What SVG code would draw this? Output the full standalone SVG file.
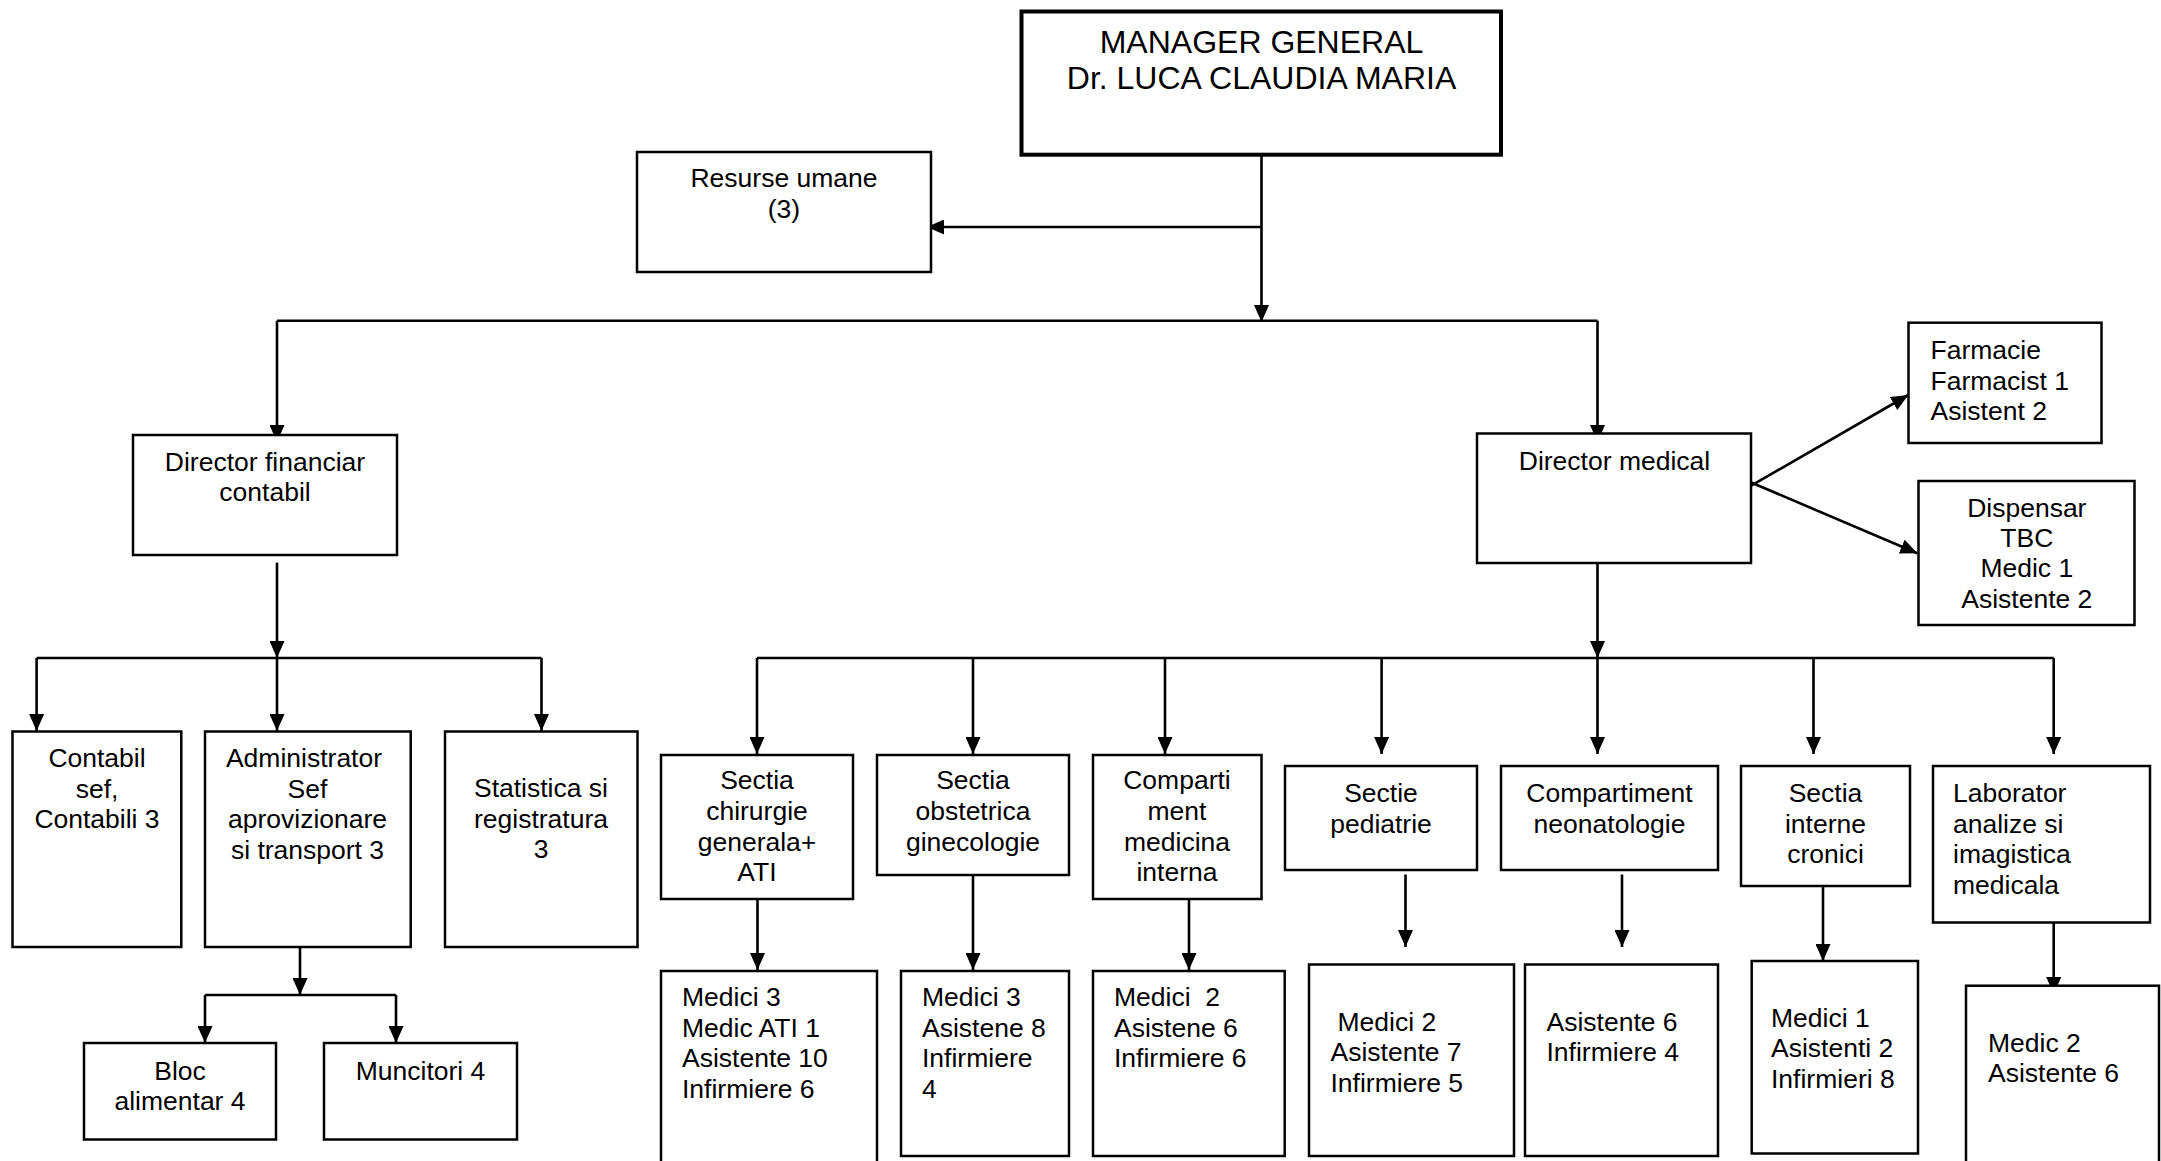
<svg xmlns="http://www.w3.org/2000/svg" width="2161" height="1161" viewBox="0 0 2161 1161">
<style>
.b{fill:#fff;stroke:#000;stroke-width:2.5}
.m{fill:#fff;stroke:#000;stroke-width:4}
.c{fill:none;stroke:#000;stroke-width:2.6}
text{font-family:"Liberation Sans",Arial,sans-serif;font-size:26.5px;fill:#000}
.t{text-anchor:middle}
.big{font-size:32px}
</style>
<defs>
<marker id="ah" markerUnits="userSpaceOnUse" markerWidth="17" markerHeight="15" refX="17" refY="7.5" orient="auto">
<path d="M0,0 L17,7.5 L0,15 z" fill="#000"/>
</marker>
</defs>
<rect width="2161" height="1161" fill="#fff"/>
<g id="connectors" class="c" marker-end="url(#ah)">
<path d="M1261.5,154 V322"/>
<path d="M1261.5,227 H927"/>
<path d="M277,320.7 H1597.5" marker-end="none"/>
<path d="M277,320.7 V442"/>
<path d="M1597.5,320.7 V442"/>
<path d="M277,562.7 V658"/>
<path d="M36.6,658 H541.5" marker-end="none"/>
<path d="M36.6,658 V731"/>
<path d="M277,658 V731"/>
<path d="M541.5,658 V731"/>
<path d="M300,947 V995"/>
<path d="M205,995 H396" marker-end="none"/>
<path d="M205,995 V1043"/>
<path d="M396,995 V1043"/>
<path d="M1740.7,491.7 L1908.3,395"/>
<path d="M1751.7,482.7 L1917.3,553.3"/>
<path d="M1597.5,563 V658"/>
<path d="M757,658 H2053.7" marker-end="none"/>
<path d="M757,658 V754"/>
<path d="M973,658 V754"/>
<path d="M1165,658 V754"/>
<path d="M1381.6,658 V754"/>
<path d="M1597.5,658 V754"/>
<path d="M1813.5,658 V754"/>
<path d="M2053.7,658 V754"/>
<path d="M757.5,899 V970"/>
<path d="M973,875 V970"/>
<path d="M1189,899 V970"/>
<path d="M1405.5,874.5 V947"/>
<path d="M1622,874.5 V947"/>
<path d="M1823,886 V961"/>
<path d="M2053.7,922.5 V994"/>
</g>
<g id="manager"><rect class="m" x="1021.5" y="11.5" width="479.5" height="143.2"/>
<text class="t big" x="1261.5" y="52.5">MANAGER GENERAL</text>
<text class="t big" x="1261.5" y="89">Dr. LUCA CLAUDIA MARIA</text></g>
<g id="resurse"><rect class="b" x="637" y="152" width="294" height="120"/>
<text class="t" x="784" y="187">Resurse umane</text>
<text class="t" x="784" y="217.5">(3)</text></g>
<g id="dir-fin"><rect class="b" x="133" y="435" width="264" height="120"/>
<text class="t" x="265" y="470.7">Director financiar</text>
<text class="t" x="265" y="501">contabil</text></g>
<g id="dir-med"><rect class="b" x="1477" y="433.5" width="274" height="129.5"/>
<text class="t" x="1614.5" y="470">Director medical</text></g>
<g id="farmacie"><rect class="b" x="1908.5" y="322.7" width="193" height="120.3"/>
<text x="1930.5" y="359.3">Farmacie</text>
<text x="1930.5" y="389.5">Farmacist 1</text>
<text x="1930.5" y="419.7">Asistent 2</text></g>
<g id="dispensar"><rect class="b" x="1918.5" y="481" width="216" height="144"/>
<text class="t" x="2026.8" y="517">Dispensar</text>
<text class="t" x="2026.8" y="547">TBC</text>
<text class="t" x="2026.8" y="577.3">Medic 1</text>
<text class="t" x="2026.8" y="607.5">Asistente 2</text></g>
<g id="contabil"><rect class="b" x="12.5" y="731.5" width="168.8" height="215.5"/>
<text class="t" x="97" y="767">Contabil</text>
<text class="t" x="97" y="797.5">sef,</text>
<text class="t" x="97" y="828">Contabili 3</text></g>
<g id="administrator"><rect class="b" x="205" y="731.5" width="205.7" height="215.5"/>
<text class="t" x="304" y="767">Administrator</text>
<text class="t" x="307.5" y="797.5">Sef</text>
<text class="t" x="307.5" y="828">aprovizionare</text>
<text class="t" x="307.5" y="858.5">si transport 3</text></g>
<g id="statistica"><rect class="b" x="445" y="731.5" width="192.5" height="215.5"/>
<text class="t" x="541" y="797">Statistica si</text>
<text class="t" x="541" y="827.5">registratura</text>
<text class="t" x="541" y="858">3</text></g>
<g id="bloc"><rect class="b" x="84" y="1043" width="192" height="96.5"/>
<text class="t" x="180" y="1079.5">Bloc</text>
<text class="t" x="180" y="1110">alimentar 4</text></g>
<g id="muncitori"><rect class="b" x="324" y="1043" width="193" height="96.5"/>
<text class="t" x="420.5" y="1079.5">Muncitori 4</text></g>
<g id="chirurgie"><rect class="b" x="661" y="755" width="192" height="144"/>
<text class="t" x="757" y="789.3">Sectia</text>
<text class="t" x="757" y="820">chirurgie</text>
<text class="t" x="757" y="850.5">generala+</text>
<text class="t" x="757" y="881.2">ATI</text></g>
<g id="obstetrica"><rect class="b" x="877" y="755" width="192" height="120"/>
<text class="t" x="973" y="789.3">Sectia</text>
<text class="t" x="973" y="820">obstetrica</text>
<text class="t" x="973" y="850.5">ginecologie</text></g>
<g id="med-interna"><rect class="b" x="1093" y="755" width="168.5" height="144"/>
<text class="t" x="1177" y="789.3">Comparti</text>
<text class="t" x="1177" y="820">ment</text>
<text class="t" x="1177" y="850.5">medicina</text>
<text class="t" x="1177" y="881.2">interna</text></g>
<g id="pediatrie"><rect class="b" x="1285" y="766" width="192" height="104"/>
<text class="t" x="1381" y="802">Sectie</text>
<text class="t" x="1381" y="832.5">pediatrie</text></g>
<g id="neonatologie"><rect class="b" x="1501" y="766" width="217" height="104"/>
<text class="t" x="1609.5" y="802">Compartiment</text>
<text class="t" x="1609.5" y="832.5">neonatologie</text></g>
<g id="interne-cronici"><rect class="b" x="1741" y="766" width="169" height="120"/>
<text class="t" x="1825.5" y="802">Sectia</text>
<text class="t" x="1825.5" y="832.5">interne</text>
<text class="t" x="1825.5" y="863">cronici</text></g>
<g id="laborator"><rect class="b" x="1933" y="766" width="217" height="156.5"/>
<text x="1953" y="802">Laborator</text>
<text x="1953" y="832.5">analize si</text>
<text x="1953" y="863">imagistica</text>
<text x="1953" y="893.5">medicala</text></g>
<g id="chirurgie-staff"><rect class="b" x="661" y="971" width="216" height="210"/>
<text x="682" y="1006">Medici 3</text>
<text x="682" y="1036.5">Medic ATI 1</text>
<text x="682" y="1067">Asistente 10</text>
<text x="682" y="1097.5">Infirmiere 6</text></g>
<g id="obstetrica-staff"><rect class="b" x="901" y="971" width="168" height="185"/>
<text x="922" y="1006">Medici 3</text>
<text x="922" y="1036.5">Asistene 8</text>
<text x="922" y="1067">Infirmiere</text>
<text x="922" y="1097.5">4</text></g>
<g id="med-interna-staff"><rect class="b" x="1093" y="971" width="191.7" height="185"/>
<text x="1114" y="1006" xml:space="preserve">Medici  2</text>
<text x="1114" y="1036.5">Asistene 6</text>
<text x="1114" y="1067">Infirmiere 6</text></g>
<g id="pediatrie-staff"><rect class="b" x="1309" y="964.5" width="205" height="191.5"/>
<text x="1337.5" y="1030.5">Medici 2</text>
<text x="1330.5" y="1061">Asistente 7</text>
<text x="1330.5" y="1091.5">Infirmiere 5</text></g>
<g id="neonatologie-staff"><rect class="b" x="1525" y="964.5" width="193" height="191.5"/>
<text x="1546.5" y="1030.5">Asistente 6</text>
<text x="1546.5" y="1061">Infirmiere 4</text></g>
<g id="interne-cronici-staff"><rect class="b" x="1751.7" y="961" width="166.3" height="192.5"/>
<text x="1771" y="1026.5">Medici 1</text>
<text x="1771" y="1057">Asistenti 2</text>
<text x="1771" y="1087.5">Infirmieri 8</text></g>
<g id="laborator-staff"><rect class="b" x="1966" y="985.7" width="193" height="200"/>
<text x="1988" y="1051.5">Medic 2</text>
<text x="1988" y="1082">Asistente 6</text></g>
</svg>
